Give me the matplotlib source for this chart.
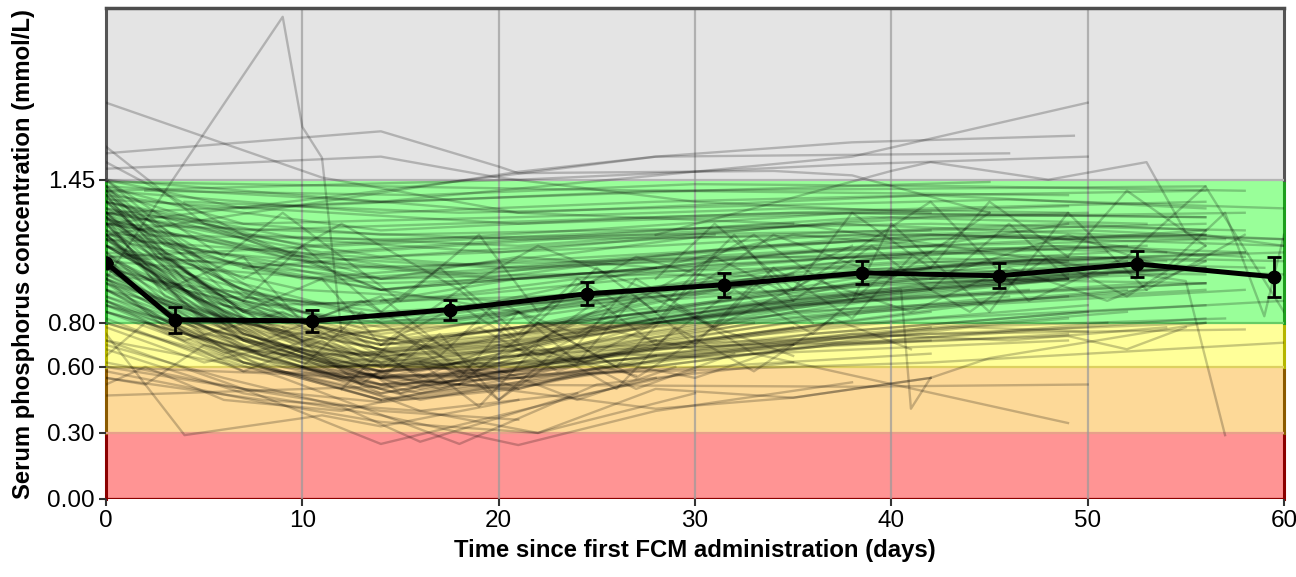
import matplotlib
matplotlib.use('Agg')
import matplotlib.pyplot as plt

plt.rcParams['font.family'] = ['Liberation Sans', 'DejaVu Sans']

# Bandas de referencia (mmol/L)
band_bottom = [0.00, 0.30, 0.60, 0.80, 1.45]
band_top = [0.30, 0.60, 0.80, 1.45, 2.23]
band_face = ['#FF9494', '#FDD998', '#FFFF99', '#99FF99', '#E4E4E4']
band_side = ['#8B0000', '#8B5A00', '#B5B500', '#1E9E1E', '#555555']
limit_values = [0.00, 0.30, 0.60, 0.80, 1.45]
limit_colors = ['#8B0000', '#E8A08A', '#DDD060', '#66CC66', '#B4B4B4']

# Trajetorias individuais (dia, fosforo)
patient_days = [
    [0, 14, 28, 42, 56], [0, 7, 21, 35, 49], [0, 10, 24, 38, 56], [0, 14, 42, 58],
    [0, 7, 14, 28, 49], [0, 21, 42, 60], [0, 5, 19, 33, 47, 56], [0, 12, 26, 40, 54],
    [0, 14, 28, 42, 56], [0, 9, 23, 37, 51, 60], [0, 7, 28, 49], [2, 16, 30, 44, 58],
    [0, 14, 35, 56], [0, 10, 20, 42, 53], [0, 6, 13, 27, 41, 55], [0, 21, 49],
    [0, 14, 28, 56], [0, 7, 21, 42, 58], [0, 11, 25, 39, 53], [0, 28, 56],
    [0, 14, 42], [0, 8, 22, 36, 50, 60], [0, 15, 29, 43, 57], [0, 7, 35, 56],
    [4, 18, 32, 46, 60], [0, 12, 33, 54], [0, 21, 35, 49, 58], [0, 14, 30, 45],
    [0, 7, 14, 21, 28, 42, 56], [0, 5, 12, 19, 33, 47], [0, 7, 14, 28, 49],
    [0, 9, 16, 23, 37, 51], [0, 6, 13, 20, 34, 48, 58], [0, 10, 17, 24, 38, 52],
    [0, 4, 11, 18, 32, 46], [0, 7, 14, 21, 35, 56], [0, 8, 15, 22, 36, 50],
    [0, 7, 14, 28, 42], [0, 3, 10, 17, 31, 45, 59], [0, 7, 14, 21, 28],
    [0, 5, 14, 23, 37, 51], [0, 9, 18, 27, 41, 55], [0, 7, 12, 21, 35, 49],
    [0, 6, 14, 20, 28, 42, 56], [0, 8, 16, 24, 38, 52], [0, 7, 14, 21, 35],
    [0, 10, 14, 21, 28, 49], [0, 5, 12, 19, 26, 40, 54], [0, 7, 16, 25, 39, 53],
    [0, 4, 13, 22, 36, 50], [0, 7, 14, 21, 28, 42, 56], [0, 9, 14, 23, 37],
    [0, 6, 15, 24, 33, 47, 58], [0, 7, 14, 21, 42], [0, 8, 17, 26, 40, 54],
    [0, 5, 11, 18, 25, 39, 53], [0, 7, 14, 21, 35, 49], [0, 10, 20, 30, 44, 58],
    [0, 3, 9, 15, 22, 36, 50], [0, 7, 14, 28, 42, 56], [0, 6, 13, 20, 27],
    [0, 8, 15, 22, 29, 43, 57], [0, 7, 14, 21, 35, 49], [0, 4, 11, 18, 32, 46, 60],
    [0, 9, 16, 23, 37, 51], [0, 7, 14, 21, 28, 42], [0, 5, 14, 21, 35, 56],
    [0, 10, 17, 24, 38, 52], [0, 7, 13, 20, 34, 48], [0, 6, 14, 22, 36, 50, 60],
    [0, 8, 14, 21, 28], [0, 7, 15, 24, 38, 52], [0, 5, 12, 21, 35, 49],
    [0, 17, 38, 50], [0, 2, 5, 9, 14], [0, 4, 11, 14, 21], [0, 7, 14, 21, 28],
    [0, 6, 12, 16, 23, 30], [0, 9, 18, 25, 35], [0, 7, 14, 21, 28, 38],
    [0, 8, 14, 22, 30], [0, 10, 20, 28, 35, 42], [0, 7, 14, 21],
    [0, 7, 14, 21, 33, 49], [0, 14, 28, 40.5, 41, 42, 45, 56], [0, 14, 28, 42, 60],
    [0, 2, 6, 12, 18], [10, 16, 22, 28, 35, 42],
    [0, 9, 10, 11, 12, 19], [0, 11, 21, 35], [0, 14, 20, 21, 34, 38, 45],
    [0, 14, 20, 30, 42], [0, 21, 28, 38, 49.3], [0, 14, 28, 46], [0, 14, 38, 50],
    [0, 21, 38, 50], [28, 40, 42, 48, 53, 55, 60], [0, 7, 14, 28], [0, 5, 14, 21],
    [0, 14, 28, 42, 58], [0, 10, 21, 35, 49, 52, 55], [0, 7, 21, 42], [0, 14, 28, 49],
    [0, 12, 26, 40, 56], [28, 33, 38, 40, 45, 49, 53, 58], [35, 42, 47, 52, 56, 60],
    [42, 49, 54, 57, 59, 60], [0, 35, 55, 57],
    [0, 3, 7, 10, 14, 17, 21, 24, 28], [0, 4, 8, 12, 16, 20, 24, 28, 35],
    [7, 10, 14, 17, 21, 24, 28, 31, 35, 42], [0, 5, 9, 13, 17, 21, 26, 30, 35],
    [14, 18, 21, 25, 28, 32, 35, 39, 42, 46, 49], [0, 6, 9, 15, 19, 22, 27, 33, 38],
    [0, 2, 7, 11, 15, 19, 24, 29], [10, 13, 17, 20, 24, 27, 31, 34, 38, 41],
    [0, 7, 12, 18, 22, 29, 34, 40, 45], [21, 25, 28, 32, 36, 40, 44, 48, 52, 56],
    [0, 4, 9, 14, 19, 23, 28, 33], [3, 7, 11, 14, 18, 22, 26],
    [28, 31, 35, 38, 42, 45, 49, 52, 56], [14, 17, 20, 24, 27, 31, 35],
    [0, 7, 14, 21, 28, 35, 42, 49, 56], [0, 7, 14, 21, 28, 35, 42, 49],
    [0, 7, 14, 21, 28, 35, 42, 49, 56], [0, 7, 14, 21, 28, 35, 42],
    [0, 7, 14, 21, 28, 35, 42, 49, 56], [0, 3, 7, 10, 14, 21, 28],
    [0, 3, 7, 10, 14, 21], [0, 3, 7, 10, 14, 21, 28, 35], [0, 3, 7, 10, 14, 21, 28],
    [0, 3, 7, 10, 14], [0, 14, 28, 42, 56], [0, 14, 28, 42, 56], [0, 14, 28, 42, 56],
    [0, 14, 28, 42, 49], [0, 7, 14, 21, 28, 42, 56], [0, 7, 14, 21, 28, 42],
    [0, 10, 20, 30, 40, 50, 60], [0, 10, 20, 30, 40, 50, 60], [0, 10, 20, 30, 40, 50],
    [0, 5, 10, 20, 30, 40], [14, 21, 28, 35, 42, 49, 56], [7, 14, 21, 28, 35, 42, 49, 56],
    [0, 21, 42, 56], [0, 7, 14, 21, 28, 35], [0, 7, 14, 21], [0, 8, 16, 24],
    [0, 3, 10, 17, 24, 31], [0, 3, 10, 17, 24, 31, 38, 45, 52],
    [12, 15, 18, 21, 24, 27, 30, 33, 36], [16, 19, 22, 26, 29, 33, 37, 41],
    [0, 8, 13, 19, 24, 30, 38, 46, 54], [18, 22, 26, 29, 33, 38, 44, 50],
    [9, 13, 16, 20, 23, 27, 32], [0, 11, 20, 26, 31, 37, 43, 49],
    [22, 27, 31, 36, 41, 46, 51, 56], [0, 6, 11, 17, 22, 27],
]
patient_phos = [
    [1.40, 1.30, 1.35, 1.38, 1.32], [1.42, 1.25, 1.28, 1.32, 1.30], [1.35, 1.15, 1.22, 1.30, 1.28], [1.30, 1.20, 1.25, 1.22],
    [1.28, 1.05, 1.10, 1.18, 1.25], [1.25, 1.18, 1.20, 1.15], [1.38, 1.12, 1.02, 1.15, 1.20, 1.10], [1.22, 1.00, 1.08, 1.15, 1.12],
    [1.18, 0.95, 1.05, 1.12, 1.08], [1.32, 1.10, 1.18, 1.25, 1.20, 1.18], [1.45, 1.32, 1.40, 1.38], [1.40, 1.38, 1.43, 1.42, 1.40],
    [1.12, 1.00, 1.05, 1.02], [1.27, 1.08, 1.00, 1.12, 1.15], [1.15, 0.92, 0.88, 1.00, 1.08, 1.05], [1.36, 1.25, 1.33],
    [1.08, 0.98, 1.02, 0.98], [1.40, 1.20, 1.15, 1.28, 1.30], [1.30, 1.12, 1.20, 1.28, 1.25], [1.44, 1.40, 1.42],
    [1.20, 1.18, 1.22], [1.05, 0.88, 0.92, 1.00, 1.05, 1.02], [1.25, 1.05, 1.12, 1.20, 1.18], [1.32, 1.22, 1.30, 1.28],
    [1.35, 1.30, 1.33, 1.36, 1.32], [1.10, 1.05, 1.10, 1.08], [1.18, 1.05, 1.10, 1.15, 1.12], [1.42, 1.35, 1.40, 1.44],
    [1.30, 0.85, 0.70, 0.78, 0.90, 1.00, 1.05], [1.25, 0.80, 0.62, 0.70, 0.88, 0.95], [1.20, 0.75, 0.55, 0.80, 1.00],
    [1.15, 0.70, 0.58, 0.72, 0.90, 1.02], [1.40, 0.95, 0.78, 0.85, 1.05, 1.15, 1.10], [1.35, 0.82, 0.68, 0.80, 1.00, 1.10],
    [1.10, 0.75, 0.60, 0.62, 0.80, 0.92], [1.05, 0.68, 0.50, 0.62, 0.85, 0.95], [1.00, 0.70, 0.52, 0.60, 0.78, 0.88],
    [0.95, 0.62, 0.48, 0.70, 0.85], [1.28, 0.92, 0.72, 0.80, 0.95, 1.08, 1.05], [1.18, 0.78, 0.62, 0.68, 0.82],
    [1.38, 0.90, 0.72, 0.88, 1.05, 1.12], [1.22, 0.80, 0.58, 0.75, 0.95, 1.05], [1.12, 0.72, 0.55, 0.65, 0.82, 0.92],
    [1.45, 1.00, 0.82, 0.90, 1.05, 1.18, 1.20], [1.02, 0.65, 0.45, 0.58, 0.75, 0.85], [0.98, 0.70, 0.55, 0.60, 0.78],
    [1.32, 0.78, 0.60, 0.70, 0.85, 1.00], [1.20, 0.82, 0.65, 0.72, 0.85, 0.98, 1.02], [1.08, 0.72, 0.50, 0.68, 0.85, 0.95],
    [1.25, 0.88, 0.65, 0.75, 0.92, 1.00], [0.90, 0.65, 0.52, 0.55, 0.70, 0.82, 0.88], [1.15, 0.68, 0.48, 0.62, 0.80],
    [1.35, 0.88, 0.70, 0.82, 0.98, 1.08, 1.12], [1.05, 0.62, 0.45, 0.55, 0.78], [1.28, 0.80, 0.62, 0.78, 0.95, 1.05],
    [1.18, 0.85, 0.68, 0.60, 0.72, 0.90, 0.98], [1.42, 0.92, 0.75, 0.82, 1.00, 1.10], [1.10, 0.70, 0.55, 0.72, 0.88, 0.95],
    [1.00, 0.78, 0.60, 0.48, 0.58, 0.75, 0.85], [1.22, 0.75, 0.58, 0.82, 0.98, 1.05], [1.30, 0.85, 0.65, 0.72, 0.90],
    [0.95, 0.60, 0.45, 0.52, 0.65, 0.78, 0.82], [1.15, 0.80, 0.68, 0.75, 0.92, 1.02], [1.38, 0.95, 0.80, 0.82, 0.98, 1.08, 1.12],
    [0.88, 0.62, 0.48, 0.55, 0.70, 0.80], [1.25, 0.72, 0.52, 0.62, 0.80, 0.95], [1.08, 0.75, 0.62, 0.70, 0.88, 0.98],
    [1.18, 0.68, 0.50, 0.65, 0.85, 0.95], [1.35, 0.82, 0.62, 0.70, 0.90, 1.00], [0.92, 0.70, 0.58, 0.62, 0.75, 0.85, 0.90],
    [1.02, 0.72, 0.55, 0.50, 0.65], [1.28, 0.85, 0.72, 0.80, 0.98, 1.08], [0.98, 0.70, 0.55, 0.58, 0.72, 0.82],
    [0.47, 0.52, 0.51, 0.52], [0.55, 0.52, 0.70, 0.58, 0.45], [0.75, 0.29, 0.38, 0.33, 0.45], [0.62, 0.50, 0.25, 0.40, 0.55],
    [0.70, 0.55, 0.42, 0.26, 0.45, 0.58], [0.80, 0.55, 0.25, 0.52, 0.62], [0.68, 0.48, 0.38, 0.245, 0.40, 0.53],
    [0.58, 0.44, 0.35, 0.30, 0.48], [0.85, 0.60, 0.50, 0.41, 0.46, 0.55], [0.72, 0.50, 0.40, 0.36],
    [0.85, 0.62, 0.45, 0.52, 0.66, 0.345], [1.05, 0.70, 0.80, 0.95, 0.41, 0.55, 0.64, 0.80], [0.60, 0.55, 0.58, 0.62, 0.71],
    [0.52, 0.60, 0.45, 0.40, 0.52], [0.60, 0.40, 0.30, 0.50, 0.46, 0.55],
    [1.00, 2.19, 1.69, 1.55, 0.75, 0.80], [1.80, 1.46, 1.30, 1.25], [1.57, 1.67, 1.51, 1.48, 1.49, 1.47, 1.30],
    [1.50, 1.555, 1.46, 1.35, 1.30], [1.20, 1.486, 1.555, 1.62, 1.65], [1.25, 1.40, 1.555, 1.57], [1.30, 1.35, 1.555, 1.80],
    [1.40, 1.45, 1.52, 1.555], [1.20, 1.49, 1.53, 1.45, 1.53, 1.21, 1.15], [1.53, 1.20, 0.95, 1.05], [1.60, 1.25, 0.95, 0.85],
    [0.95, 0.65, 0.70, 0.75, 0.77], [0.90, 0.60, 0.62, 0.70, 0.74, 0.68, 0.78], [0.82, 0.58, 0.55, 0.66], [0.88, 0.58, 0.64, 0.72],
    [1.00, 0.60, 0.68, 0.72, 0.82], [0.95, 1.20, 0.90, 1.25, 0.85, 1.30, 0.95, 1.20], [0.95, 1.35, 0.90, 1.10, 1.42, 0.85],
    [1.00, 1.20, 1.05, 1.30, 0.83, 1.20], [1.10, 1.25, 0.99, 0.29],
    [1.20, 0.95, 1.10, 0.80, 0.92, 0.70, 0.85, 0.75, 0.95], [1.05, 0.80, 0.65, 0.78, 0.55, 0.70, 0.62, 0.80, 0.90],
    [0.90, 1.15, 0.85, 1.05, 0.75, 1.00, 0.80, 1.10, 0.92, 1.05], [0.78, 0.62, 0.70, 0.55, 0.65, 0.50, 0.62, 0.55, 0.70],
    [0.70, 0.95, 0.72, 1.05, 0.85, 1.20, 0.90, 1.15, 0.95, 1.25, 1.00], [1.45, 1.10, 1.30, 0.90, 1.20, 0.85, 1.10, 0.95, 1.15],
    [0.65, 0.80, 0.58, 0.72, 0.48, 0.62, 0.45, 0.60], [0.60, 0.85, 0.65, 0.90, 0.70, 1.00, 0.78, 1.05, 0.82, 1.10],
    [1.30, 1.00, 1.25, 0.95, 1.15, 0.90, 1.20, 1.00, 1.30], [0.65, 0.90, 0.70, 0.95, 0.75, 1.05, 0.85, 1.10, 0.92, 1.15],
    [0.90, 0.72, 0.85, 0.62, 0.78, 0.58, 0.72, 0.80], [1.10, 0.85, 1.00, 0.70, 0.88, 0.65, 0.82],
    [1.00, 1.25, 0.95, 1.30, 1.05, 1.35, 1.10, 1.40, 1.15], [0.55, 0.75, 0.45, 0.70, 0.55, 0.78, 0.65],
    [1.35, 1.18, 1.00, 1.10, 1.05, 1.20, 1.15, 1.25, 1.22], [1.15, 0.90, 0.78, 0.85, 0.92, 1.00, 1.05, 1.08],
    [0.98, 0.80, 0.68, 0.72, 0.80, 0.88, 0.92, 0.95, 0.98], [1.25, 0.95, 0.82, 0.88, 0.95, 1.05, 1.12],
    [1.08, 0.82, 0.70, 0.78, 0.85, 0.95, 1.00, 1.02, 1.05], [1.30, 1.05, 0.90, 0.80, 0.72, 0.78, 0.85],
    [1.20, 0.98, 0.85, 0.72, 0.65, 0.70], [1.40, 1.12, 0.95, 0.85, 0.80, 0.88, 0.95, 1.02], [1.00, 0.85, 0.72, 0.62, 0.58, 0.65, 0.72],
    [1.12, 0.90, 0.75, 0.68, 0.60], [1.30, 1.10, 1.15, 1.22, 1.25], [1.20, 1.00, 1.08, 1.15, 1.18], [1.38, 1.22, 1.28, 1.32, 1.35],
    [1.02, 0.85, 0.92, 0.98, 1.00], [0.85, 0.68, 0.60, 0.62, 0.68, 0.75, 0.80], [0.80, 0.62, 0.55, 0.58, 0.65, 0.72],
    [1.25, 1.10, 1.05, 1.12, 1.20, 1.22, 1.18], [1.15, 0.95, 0.90, 0.98, 1.05, 1.10, 1.08], [1.35, 1.18, 1.12, 1.20, 1.28, 1.30],
    [0.95, 0.78, 0.65, 0.70, 0.80, 0.88], [0.90, 1.00, 1.05, 1.12, 1.15, 1.18, 1.20], [1.05, 0.95, 1.02, 1.10, 1.15, 1.20, 1.18, 1.22],
    [1.45, 1.30, 1.38, 1.40], [0.72, 0.60, 0.52, 0.55, 0.62, 0.70], [0.60, 0.50, 0.44, 0.50], [0.55, 0.45, 0.40, 0.48],
    [1.42, 1.15, 1.00, 1.05, 1.12, 1.20], [1.28, 1.05, 0.88, 0.92, 1.00, 1.05, 1.10, 1.12, 1.15],
    [0.50, 0.75, 0.55, 0.85, 0.62, 0.92, 0.70, 0.98, 0.80], [0.62, 0.42, 0.70, 0.50, 0.78, 0.58, 0.82, 0.68],
    [1.10, 0.72, 0.90, 0.60, 0.80, 0.68, 0.75, 0.72, 0.78], [0.52, 0.80, 0.60, 0.88, 0.66, 0.72, 0.78, 0.76],
    [0.78, 0.52, 0.72, 0.45, 0.68, 0.50, 0.66], [0.92, 0.62, 0.58, 0.66, 0.64, 0.70, 0.72, 0.75],
    [0.72, 0.95, 0.78, 1.00, 0.85, 1.05, 0.90, 1.08], [0.88, 0.66, 0.78, 0.52, 0.68, 0.56],
]

# Media semanal com erro padrao
mean_days = [0, 3.5, 10.5, 17.5, 24.5, 31.5, 38.5, 45.5, 52.5, 59.5]
mean_phos = [1.073, 0.814, 0.809, 0.86, 0.932, 0.973, 1.027, 1.014, 1.068, 1.009]
mean_err = [0.0, 0.06, 0.05, 0.045, 0.052, 0.055, 0.052, 0.056, 0.06, 0.09]

fig = plt.figure(figsize=(12.96, 5.77), dpi=100)
ax = fig.add_axes([0.0818, 0.1352, 0.9089, 0.8509])

# Faixas coloridas com bordas laterais escuras
for b0, b1, fc, sc in zip(band_bottom, band_top, band_face, band_side):
    ax.axhspan(b0, b1, facecolor=fc, lw=0, zorder=0)
    ax.plot([0, 0], [b0, b1], color=sc, lw=2.2, zorder=1, clip_on=False)
    ax.plot([60, 60], [b0, b1], color=sc, lw=2.2, zorder=1, clip_on=False)
for lv, lc in zip(limit_values, limit_colors):
    ax.axhline(lv, color=lc, lw=1.6, zorder=1)

# Grade vertical
for gx in range(10, 60, 10):
    ax.axvline(gx, color='#9a9a9a', lw=1.6, alpha=0.7, zorder=1)

for d, p in zip(patient_days, patient_phos):
    ax.plot(d, p, color='black', alpha=0.22, lw=1.7, zorder=2)

ax.errorbar(mean_days, mean_phos, yerr=mean_err, color='black', lw=3.6,
            marker='o', markersize=9, elinewidth=2, capsize=5, capthick=2, zorder=5)

ax.set_xlim(0, 60)
ax.set_ylim(0, 2.23)
ax.set_xticks([0, 10, 20, 30, 40, 50, 60])
ax.set_yticks([0.0, 0.30, 0.60, 0.80, 1.45])
ax.set_yticklabels(['0.00', '0.30', '0.60', '0.80', '1.45'])
ax.tick_params(axis='both', labelsize=17.5, colors='#333333', labelcolor='black',
               length=5, width=1.5, pad=3)

for s in ['left', 'right', 'bottom']:
    ax.spines[s].set_visible(False)
ax.spines['top'].set_color('#4d4d4d')
ax.spines['top'].set_linewidth(2.5)

ax.set_xlabel('Time since first FCM administration (days)', fontsize=17.2,
              fontweight='bold', labelpad=5)
ax.set_ylabel('Serum phosphorus concentration (mmol/L)', fontsize=17.2,
              fontweight='bold', labelpad=9)

fig.savefig('out.png', dpi=100)
plt.close(fig)
